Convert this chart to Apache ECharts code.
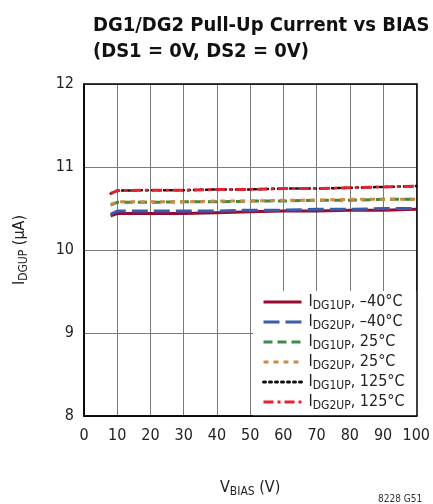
<!DOCTYPE html>
<html><head><meta charset="utf-8">
<script src="https://cdn.jsdelivr.net/npm/echarts@6/dist/echarts.min.js"></script>
<style>html,body{margin:0;padding:0;background:#fff}#c{width:433px;height:504px}</style>
</head><body><div id="c"></div>
<script>
const FONT = "'Liberation Sans Narrow', 'DejaVu Sans Condensed', 'Roboto', sans-serif";
const titleLines = ['DG1/DG2 Pull-Up Current vs BIAS', '(DS1 = 0V, DS2 = 0V)'];
const xTicks = [0, 10, 20, 30, 40, 50, 60, 70, 80, 90, 100];
const yTicks = [8, 9, 10, 11, 12];
const vbias = [8, 10, 20, 30, 40, 50, 60, 70, 80, 90, 100];
const dg1m40 = [10.41, 10.44, 10.44, 10.44, 10.45, 10.46, 10.47, 10.47, 10.48, 10.48, 10.49];
const dg2m40 = [10.43, 10.47, 10.47, 10.47, 10.47, 10.48, 10.48, 10.49, 10.49, 10.50, 10.50];
const dg1p25 = [10.54, 10.575, 10.575, 10.58, 10.58, 10.59, 10.59, 10.60, 10.60, 10.61, 10.61];
const dg2p25 = [10.55, 10.58, 10.58, 10.58, 10.59, 10.59, 10.60, 10.60, 10.61, 10.61, 10.61];
const dg1p125 = [10.68, 10.715, 10.72, 10.72, 10.73, 10.73, 10.74, 10.74, 10.75, 10.76, 10.77];
const dg2p125 = [10.68, 10.715, 10.72, 10.72, 10.73, 10.73, 10.74, 10.74, 10.75, 10.76, 10.77];
const seriesNames = ['IDG1UP, –40°C', 'IDG2UP, –40°C', 'IDG1UP, 25°C', 'IDG2UP, 25°C', 'IDG1UP, 125°C', 'IDG2UP, 125°C'];
const seriesSub = ['DG1UP', 'DG2UP', 'DG1UP', 'DG2UP', 'DG1UP', 'DG2UP'];
const seriesTemp = [', –40°C', ', –40°C', ', 25°C', ', 25°C', ', 125°C', ', 125°C'];
const seriesData = [dg1m40, dg2m40, dg1p25, dg2p25, dg1p125, dg2p125];

const styles = [
  {color: '#9a0a30', type: 'solid', width: 3},
  {color: '#3b5cab', type: [16, 6], width: 3},
  {color: '#3a8c48', type: [9, 5], width: 3},
  {color: '#cc8a40', type: [5, 5], width: 3},
  {color: '#111111', type: [2, 4], width: 2.5, cap: 'round'},
  {color: '#e8202e', type: [10, 4, 3, 4], width: 3}
];

const chart = echarts.init(document.getElementById('c'), null, {renderer: 'canvas'});
const series = seriesData.map((d, i) => ({
  name: seriesNames[i],
  type: 'line',
  showSymbol: false,
  symbol: 'none',
  data: vbias.map((x, j) => [x, d[j]]),
  lineStyle: {color: styles[i].color, type: styles[i].type, width: styles[i].width, cap: styles[i].cap || 'butt'},
  itemStyle: {color: styles[i].color},
  z: 2 + i
}));

const rich = {
  m: {fontFamily: FONT, fontSize: 16, color: '#222', lineHeight: 20},
  s: {fontFamily: FONT, fontSize: 12, color: '#222', lineHeight: 12, padding: [8, 0, 0, 0]}
};

chart.setOption({
  animation: false,
  title: {
    text: titleLines.join('\n'),
    left: 88, top: 8,
    textStyle: {fontFamily: FONT, fontWeight: 'bold', fontSize: 20, lineHeight: 26, color: '#111'}
  },
  grid: {left: 84, top: 84, right: 16, bottom: 88, containLabel: false},
  legend: {
    orient: 'vertical',
    left: 253, top: 291,
    padding: [1, 0, 0, 9],
    itemWidth: 38, itemHeight: 14, itemGap: 0,
    data: seriesNames,
    itemStyle: {color: 'rgba(0,0,0,0)', borderWidth: 0, opacity: 0},
    lineStyle: {width: 3},
    formatter: function (name) {
      const i = seriesNames.indexOf(name);
      return '{m|I}{s|' + seriesSub[i] + '}{m|' + seriesTemp[i] + '}';
    },
    textStyle: {rich: rich, padding: [0, 0, 0, 2]}
  },
  xAxis: {
    type: 'value', min: 0, max: 100, interval: 10,
    name: '{m|V}{s|BIAS}{m| (V)}',
    nameLocation: 'middle', nameGap: 62,
    nameTextStyle: {rich: rich},
    axisLine: {show: true, lineStyle: {color: '#000', width: 1.5}},
    axisTick: {show: false},
    axisLabel: {fontFamily: FONT, fontSize: 16, color: '#222', margin: 12},
    splitLine: {show: true, lineStyle: {color: '#7a7a7a', width: 1}}
  },
  yAxis: {
    type: 'value', min: 8, max: 12, interval: 1,
    name: '{m|I}{s|DGUP}{m| (µA)}',
    nameLocation: 'middle', nameGap: 54, nameRotate: 90,
    nameTextStyle: {rich: rich},
    axisLine: {show: true, lineStyle: {color: '#000', width: 1.5}},
    axisTick: {show: false},
    axisLabel: {fontFamily: FONT, fontSize: 16, color: '#222', margin: 10},
    splitLine: {show: true, lineStyle: {color: '#7a7a7a', width: 1}}
  },
  graphic: [
    {type: 'rect', shape: {x: 253, y: 291, width: 164, height: 125}, style: {fill: '#fff'}, z: 1, silent: true},
    {type: 'rect', shape: {x: 84, y: 84, width: 333, height: 332}, style: {fill: 'none', stroke: '#000', lineWidth: 1.5}, z: 100, silent: true},
    {type: 'text', left: 378, top: 494, style: {text: '8228 G51', fontFamily: FONT, fontSize: 10, fill: '#333'}}
  ],
  series: series
});
</script></body></html>
